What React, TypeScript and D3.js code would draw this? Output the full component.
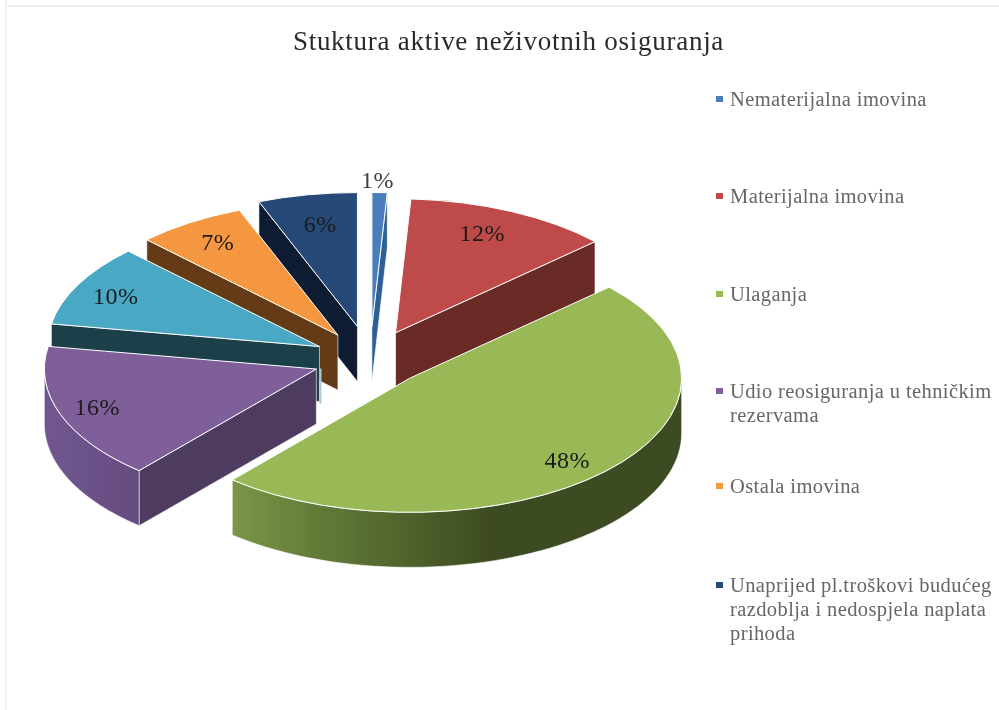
import React from "react";
import * as d3 from "d3";

const categories = [
  "Nematerijalna imovina",
  "Materijalna imovina",
  "Ulaganja",
  "Udio reosiguranja u tehničkim rezervama",
  "Ostala imovina",
  "Unaprijed pl.troškovi budućeg razdoblja i nedospjela naplata prihoda",
];
const legendLines = [
  ["Nematerijalna imovina"],
  ["Materijalna imovina"],
  ["Ulaganja"],
  ["Udio reosiguranja u tehničkim", "rezervama"],
  ["Ostala imovina"],
  ["Unaprijed pl.troškovi budućeg", "razdoblja i nedospjela naplata", "prihoda"],
];
const legendRowY = [99, 196, 294, 391, 486, 585];
// slices in drawing-angle order, clockwise from 12 o'clock
const sliceValues = [0.9, 12.2, 48.2, 16.4, 9.9, 6.5, 5.9];
const sliceLabels = ["1%", "12%", "48%", "16%", "10%", "7%", "6%"];
const explosion = [67, 60, 55, 57, 57, 59, 68];
const labelRadius = [1.12, 0.8, 0.84, 0.86, 0.82, 0.82, 0.78];
const labelNudgeX = [-3, -6, -7, 1, -6, 1, 2];
const labelNudgeY = [3, -3, 3, -1, 0, -1, 0];
const topColors = ["#4a7ebb", "#be4b48", "#98b954", "#7e5f9a", "#4aa9c4", "#f59640", "#264a78"];
const wallColors = ["#2d5f96", "#6b2a28", "#3d4a1f", "#4d3a60", "#1b3f49", "#643b18", "#0d1d30"];
const legendColors = ["#4a7ebb", "#be4b48", "#98b954", "#7e5f9a", "#f59640", "#264a78"];
const drawOrder = [0, 6, 5, 4, 1, 3, 2];

const SERIF = "'Liberation Serif', serif";
const cx = 370, cy = 359.5, rx = 272, ry = 134, depth = 55;
const k = ry / rx;

const pie = d3.pie<number>().sort(null);
const arcs = pie(sliceValues);
const arcGen = d3.arc<any>().innerRadius(0).outerRadius(rx);
const line = d3.line<[number, number]>();

const pt = (ax: number, ay: number, a: number, f = 1): [number, number] => [
  ax + rx * f * Math.sin(a),
  ay - ry * f * Math.cos(a),
];

export default function App() {
  const slices = arcs.map((d, i) => {
    const mid = (d.startAngle + d.endAngle) / 2;
    const ax = cx + explosion[i] * Math.sin(mid);
    const ay = cy - explosion[i] * k * Math.cos(mid);
    return { i, d, mid, ax, ay };
  });
  const wall = (ax: number, ay: number, a: number) => {
    const p = pt(ax, ay, a);
    return line([[ax, ay], p, [p[0], p[1] + depth], [ax, ay + depth]])! + "Z";
  };
  const rim = (ax: number, ay: number, a0: number, a1: number) => {
    const s = Math.max(a0, Math.PI / 2), e = Math.min(a1, 1.5 * Math.PI);
    if (e <= s) return null;
    const n = 60;
    const top = d3.range(n + 1).map((j) => pt(ax, ay, s + ((e - s) * j) / n));
    const bottom = top.map(([x, y]) => [x, y + depth] as [number, number]).reverse();
    return line([...top, ...bottom])! + "Z";
  };
  return (
    <svg width={999} height={710} style={{ position: "absolute", left: 0, top: 0, background: "#fff" }}>
      <defs>
        <linearGradient id="rim2" gradientUnits="userSpaceOnUse" x1={230} x2={490} y1={0} y2={0}>
          <stop offset="0" stopColor="#7c9747" />
          <stop offset="0.35" stopColor="#627a38" />
          <stop offset="1" stopColor="#3e4b20" />
        </linearGradient>
        <linearGradient id="rim3" gradientUnits="userSpaceOnUse" x1={47} x2={136} y1={0} y2={0}>
          <stop offset="0" stopColor="#705690" />
          <stop offset="1" stopColor="#654c80" />
        </linearGradient>
        <filter id="soft" x="-2%" y="-2%" width="104%" height="104%">
          <feGaussianBlur stdDeviation="0.6" />
        </filter>
      </defs>
      <rect x={5} y={0} width={2} height={710} fill="#f0f0f0" />
      <rect x={5} y={5} width={994} height={2} fill="#f0f0f0" />
      <g filter="url(#soft)">
        <text x={508.5} y={50} textAnchor="middle" fontFamily={SERIF} fontSize={27} letterSpacing={0.73} fill="#2b2b2b">
          Stuktura aktive neživotnih osiguranja
        </text>
        {drawOrder.map((idx) => {
          const { i, d, ax, ay } = slices[idx];
          const walls: React.ReactNode[] = [];
          if (Math.sin(d.startAngle) < -1e-6)
            walls.push(<path key="s" d={wall(ax, ay, d.startAngle)} fill={wallColors[i]} stroke="#fff" strokeWidth={0.6} />);
          if (Math.sin(d.endAngle) > 1e-6)
            walls.push(<path key="e" d={wall(ax, ay, d.endAngle)} fill={wallColors[i]} stroke="#fff" strokeWidth={0.6} />);
          const r = rim(ax, ay, d.startAngle, d.endAngle);
          const rimFill = i === 2 ? "url(#rim2)" : i === 3 ? "url(#rim3)" : wallColors[i];
          return (
            <g key={i}>
              {walls}
              {r && <path d={r} fill={rimFill} stroke="#fff" strokeWidth={0.5} />}
              {i === 4 && (
                <line x1={ax + 1} x2={ax + 1} y1={ay + 22} y2={ay + depth + 2} stroke="#a9cdd0" strokeWidth={2} />
              )}
              <path
                d={arcGen(d)!}
                transform={`translate(${ax},${ay}) scale(1,${k})`}
                fill={topColors[i]}
                stroke="#fff"
                strokeWidth={1}
                vectorEffect="non-scaling-stroke"
              />
            </g>
          );
        })}
        {slices.map(({ i, mid, ax, ay }) => {
          const [x, y] = pt(ax, ay, mid, labelRadius[i]);
          return (
            <text key={i} x={x + labelNudgeX[i]} y={y + labelNudgeY[i]} dy="0.35em" textAnchor="middle" fontFamily={SERIF} fontSize={24}
              letterSpacing={0.5} fill={i === 0 ? "#404040" : "#1a1a1a"}>
              {sliceLabels[i]}
            </text>
          );
        })}
        {categories.map((c, i) => {
          const y0 = legendRowY[i];
          return (
            <g key={c}>
              <rect x={716} y={y0 - 3} width={7} height={6} fill={legendColors[i]} />
              {legendLines[i].map((l, j) => (
                <text key={j} x={730} y={y0 + 6.5 + j * 24} fontFamily={SERIF} fontSize={20.5} letterSpacing={0.4} fill="#666">
                  {l}
                </text>
              ))}
            </g>
          );
        })}
      </g>
    </svg>
  );
}
